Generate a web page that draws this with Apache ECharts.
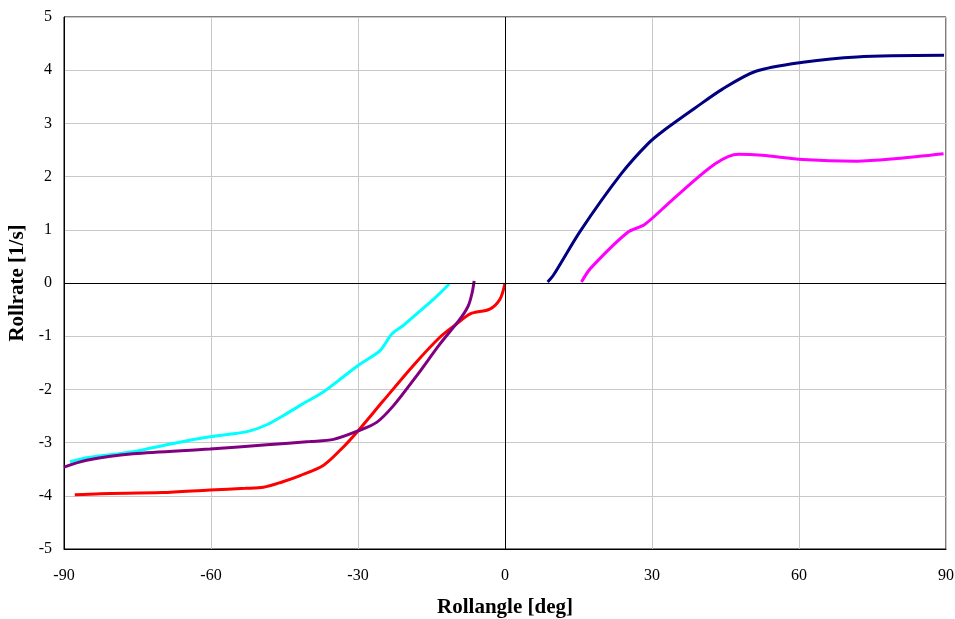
<!DOCTYPE html>
<html><head><meta charset="utf-8">
<script src="https://cdn.jsdelivr.net/npm/echarts@6/dist/echarts.min.js"></script>
<style>html,body{margin:0;padding:0;background:#fff}#c{width:955px;height:619px}</style>
</head><body><div id="c"></div>
<script>
const xTicks = [-90, -60, -30, 0, 30, 60, 90];
const yTicks = [-5, -4, -3, -2, -1, 0, 1, 2, 3, 4, 5];

const cyanX = [-88.8, -85, -75.9, -68, -60.2, -55, -52, -48.5, -45.2, -41.8, -37.1, -33.5, -30, -25.5, -23.1, -20.5, -18, -14.5, -11.4];
const cyanY = [-3.36, -3.28, -3.17, -3.02, -2.89, -2.83, -2.78, -2.66, -2.49, -2.30, -2.05, -1.80, -1.55, -1.27, -0.96, -0.78, -0.58, -0.30, -0.02];

const purpleX = [-90, -85.4, -75.9, -60.2, -48.6, -39.8, -35, -30, -26.2, -22.8, -18, -13.3, -9.2, -7.5, -6.7, -6.3];
const purpleY = [-3.46, -3.33, -3.21, -3.12, -3.04, -2.98, -2.94, -2.78, -2.62, -2.31, -1.74, -1.15, -0.68, -0.43, -0.18, 0.04];

const redX = [-87.8, -82.6, -70, -60.2, -53, -49.3, -45.5, -41.8, -37.1, -33.5, -30, -24.8, -18.7, -13.3, -9.9, -7.1, -3.1, -1, 0];
const redY = [-3.98, -3.96, -3.94, -3.89, -3.86, -3.84, -3.74, -3.62, -3.43, -3.13, -2.78, -2.21, -1.55, -1.02, -0.77, -0.58, -0.49, -0.30, 0];

const navyX = [8.7, 9.9, 15.4, 23.7, 29.2, 32.6, 38.8, 44.3, 51.2, 60.8, 71.8, 89.6];
const navyY = [0.02, 0.15, 0.98, 2.05, 2.62, 2.88, 3.29, 3.64, 3.98, 4.15, 4.25, 4.28];

const magentaX = [15.6, 17.5, 25.0, 28.5, 34.0, 42.9, 47.7, 52.5, 60.8, 71.8, 80, 89.5];
const magentaY = [0.02, 0.28, 0.95, 1.10, 1.55, 2.24, 2.42, 2.40, 2.32, 2.29, 2.34, 2.43];

function pairs(xs, ys) { return xs.map((x, i) => [x, ys[i]]); }

const font = '"Liberation Serif", "Times New Roman", serif';
const chart = echarts.init(document.getElementById('c'), null, {renderer: 'canvas'});

function line(name, xs, ys, color, extra) {
  return Object.assign({
    name, type: 'line', data: pairs(xs, ys), smooth: 0.3, showSymbol: false,
    lineStyle: {color, width: 3}, itemStyle: {color}, z: 3
  }, extra || {});
}

chart.setOption({
  animation: false,
  backgroundColor: '#fff',
  grid: {left: 64, right: 9, top: 17, bottom: 70, show: true, borderColor: '#000', borderWidth: 1,
         containLabel: false, outerBoundsMode: 'none'},
  xAxis: {
    type: 'value', min: xTicks[0], max: xTicks[xTicks.length - 1], interval: 30,
    axisLine: {show: true, onZero: false, lineStyle: {color: '#000'}},
    axisTick: {show: false},
    axisLabel: {color: '#000', fontFamily: font, fontSize: 16, margin: 19},
    splitLine: {show: true, lineStyle: {color: '#c8c8c8', width: 1}},
    name: 'Rollangle [deg]', nameLocation: 'middle', nameGap: 48,
    nameTextStyle: {color: '#000', fontFamily: font, fontSize: 21, fontWeight: 'bold'}
  },
  yAxis: {
    type: 'value', min: yTicks[0], max: yTicks[yTicks.length - 1], interval: 1,
    axisLine: {show: true, onZero: false, lineStyle: {color: '#000'}},
    axisTick: {show: false},
    axisLabel: {color: '#000', fontFamily: font, fontSize: 16, margin: 12},
    splitLine: {show: true, lineStyle: {color: '#c8c8c8', width: 1}},
    name: 'Rollrate [1/s]', nameLocation: 'middle', nameGap: 34,
    nameTextStyle: {color: '#000', fontFamily: font, fontSize: 21, fontWeight: 'bold'}
  },
  series: [
    line('zero', [], [], '#000', {
      data: [], z: 2,
      markLine: {silent: true, symbol: 'none', label: {show: false},
        lineStyle: {color: '#000', width: 1, type: 'solid'},
        data: [{xAxis: 0}, {yAxis: 0}]}
    }),
    line('cyan', cyanX, cyanY, '#00FFFF'),
    line('red', redX, redY, '#FF0000'),
    line('purple', purpleX, purpleY, '#800080'),
    line('navy', navyX, navyY, '#000080'),
    line('magenta', magentaX, magentaY, '#FF00FF')
  ]
});
</script></body></html>
